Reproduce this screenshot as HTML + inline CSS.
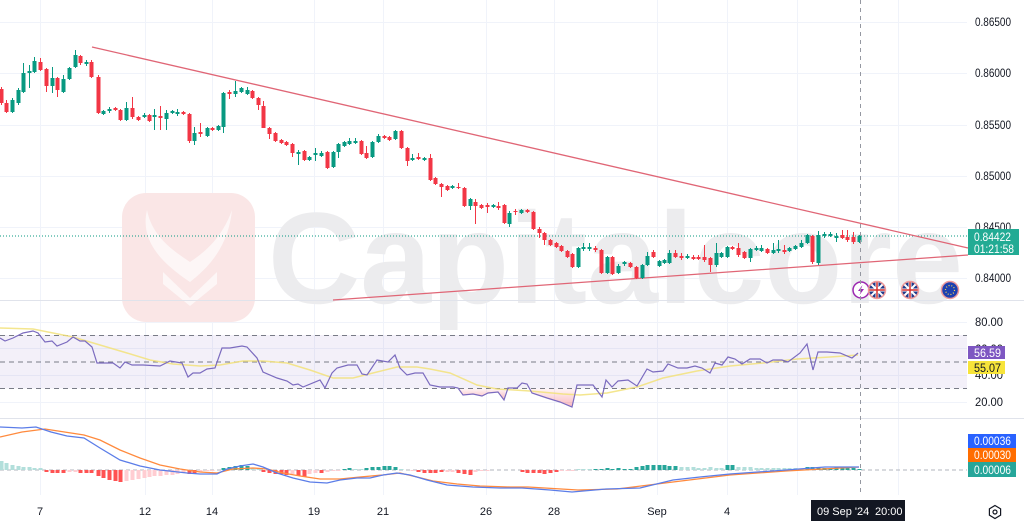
<!DOCTYPE html>
<html><head><meta charset="utf-8"><style>
html,body{margin:0;padding:0;background:#fff;width:1024px;height:524px;overflow:hidden}
svg{display:block;font-family:"Liberation Sans",sans-serif}
</style></head><body>
<svg width="1024" height="524" viewBox="0 0 1024 524" xmlns="http://www.w3.org/2000/svg">
<rect width="1024" height="524" fill="#fff"/>
<!-- grid -->
<g stroke="#f0f3fa" stroke-width="1">
<path d="M0 22.5H967M0 73.5H967M0 125.5H967M0 176.5H967M0 227.5H967M0 278.5H967"/>
<path d="M0 322.5H967M0 348.5H967M0 375.5H967M0 402.5H967"/>
<path d="M40.5 0V495M145.5 0V495M212.5 0V495M314.5 0V495M383.5 0V495M486.5 0V495M554.5 0V495M657.5 0V495M727.5 0V495M797.5 0V495M898.5 0V495"/>
</g>
<!-- watermark -->
<rect x="122" y="193" width="133" height="129" rx="24" fill="#fae6e6"/>
<path d="M147 210 C140 240 160 262 190 282 C205 270 228 250 232 210 C222 238 205 252 190 262 C172 250 152 236 147 210Z" fill="#fdf6f6"/>
<path d="M163 272 L190 298 L217 272 L217 284 L190 306 L163 284Z" fill="#fdf6f6"/>
<text x="268" y="303" font-size="130" font-weight="bold" fill="#ececee" textLength="695" lengthAdjust="spacingAndGlyphs">Capitalcore</text>
<!-- panel separators -->
<path d="M0 300.5H1024M0 418.5H1024" stroke="#e0e3eb" stroke-width="1"/>
<!-- current price dotted -->
<path d="M0 236H967" stroke="#089981" stroke-width="1" stroke-dasharray="1 2"/>
<!-- trendlines -->
<path d="M92 47L968 248M333 300L968 255" stroke="#e06676" stroke-width="1.3" fill="none"/>
<!-- candles -->
<path fill="none" stroke="#089981" stroke-width="1" d="M12.5 98V113M18.5 88V105M23.5 63V93M29.5 65V88M34.5 57V73M52.5 67V93M63.5 75V93M69.5 67V80M75.5 50V68M86.5 60V66M103.5 110V115M109.5 107V113M126.5 102V121M144.5 113V118M154.5 109V130M166.5 110V130M172.5 110V114M177.5 109V116M194.5 127V145M207.5 127V137M218.5 125V131M223.5 92V133M235.5 81V97M241.5 87V93M247.5 87V95M298.5 150V165M309.5 156V161M315.5 148V161M321.5 151V157M333.5 151V168M338.5 143V158M344.5 141V147M349.5 138V145M355.5 138V144M372.5 141V158M378.5 134V143M395.5 130V140M412.5 154V161M424.5 157V161M452.5 185V189M470.5 198V210M493.5 204V208M509.5 211V227M521.5 209V214M578.5 247V268M583.5 243V251M589.5 243V251M607.5 256V274M618.5 264V274M624.5 261V266M642.5 264V279M647.5 252V266M659.5 260V267M664.5 259V264M669.5 250V264M687.5 254V259M716.5 243V267M721.5 252V258M727.5 246V258M750.5 248V262M756.5 246V251M761.5 245V252M773.5 243V254M778.5 240V253M789.5 247V252M795.5 245V250M801.5 240V248M807.5 234V244M818.5 231V265M824.5 232V238M830.5 232V237M836.5 233V242M859.5 235V243"/>
<path fill="#089981" d="M10.5 100h4V112h-4zM16.5 90h4V103h-4zM21.5 73h4V92h-4zM27.5 71h4V73h-4zM32.5 61h4V72h-4zM50.5 78h4V86h-4zM61.5 79h4V92h-4zM67.5 68h4V79h-4zM73.5 55h4V67h-4zM84.5 62h4V64h-4zM101.5 111h4V114h-4zM107.5 109h4V111h-4zM124.5 108h4V120h-4zM142.5 115h4V117h-4zM152.5 115h4V117h-4zM164.5 113h4V119h-4zM170.5 111h4V113h-4zM175.5 112h4V114h-4zM192.5 133h4V141h-4zM205.5 128h4V136h-4zM216.5 126h4V130h-4zM221.5 93h4V127h-4zM233.5 91h4V94h-4zM239.5 88h4V92h-4zM245.5 90h4V94h-4zM296.5 152h4V154h-4zM307.5 157h4V160h-4zM313.5 153h4V155h-4zM319.5 153h4V156h-4zM331.5 152h4V167h-4zM336.5 144h4V152h-4zM342.5 142h4V146h-4zM347.5 141h4V144h-4zM353.5 141h4V143h-4zM370.5 142h4V157h-4zM376.5 136h4V142h-4zM393.5 131h4V139h-4zM410.5 158h4V160h-4zM422.5 158h4V160h-4zM450.5 186h4V188h-4zM468.5 199h4V206h-4zM491.5 205h4V207h-4zM507.5 213h4V224h-4zM519.5 210h4V213h-4zM576.5 248h4V267h-4zM581.5 247h4V249h-4zM587.5 247h4V249h-4zM605.5 257h4V273h-4zM616.5 266h4V273h-4zM622.5 262h4V264h-4zM640.5 265h4V278h-4zM645.5 256h4V265h-4zM657.5 261h4V266h-4zM662.5 260h4V263h-4zM667.5 253h4V263h-4zM685.5 256h4V258h-4zM714.5 253h4V265h-4zM719.5 253h4V257h-4zM725.5 247h4V257h-4zM748.5 249h4V258h-4zM754.5 248h4V250h-4zM759.5 248h4V251h-4zM771.5 250h4V253h-4zM776.5 249h4V251h-4zM787.5 248h4V251h-4zM793.5 246h4V249h-4zM799.5 243h4V247h-4zM805.5 235h4V243h-4zM816.5 235h4V263h-4zM822.5 234h4V236h-4zM828.5 234h4V236h-4zM834.5 236h4V238h-4zM857.5 236h4V242h-4z"/>
<path fill="none" stroke="#f23645" stroke-width="1" d="M1.5 87V105M6.5 100V113M40.5 58V71M46.5 68V92M57.5 77V97M80.5 55V65M91.5 60V78M98.5 75V114M115.5 107V111M120.5 109V121M132.5 97V119M138.5 116V121M149.5 114V122M160.5 106V130M183.5 111V115M189.5 113V143M200.5 123V137M212.5 127V131M229.5 90V99M252.5 90V99M258.5 97V110M263.5 101V128M269.5 127V139M275.5 132V142M281.5 139V144M286.5 141V146M292.5 143V157M304.5 150V161M327.5 151V169M361.5 140V155M366.5 146V159M384.5 135V139M389.5 136V141M401.5 130V149M407.5 147V166M418.5 153V160M430.5 154V181M435.5 177V185M441.5 183V197M447.5 185V191M458.5 183V189M464.5 187V207M475.5 199V224M481.5 204V209M487.5 203V213M498.5 202V210M504.5 204V224M515.5 209V215M527.5 209V213M533.5 211V230M539.5 227V238M544.5 232V245M550.5 239V246M556.5 242V248M561.5 245V252M567.5 250V258M572.5 253V268M595.5 246V252M601.5 249V274M612.5 256V275M630.5 262V268M636.5 266V279M653.5 250V258M675.5 250V258M681.5 253V260M693.5 255V260M698.5 255V260M704.5 245V262M710.5 257V272M732.5 246V250M738.5 243V257M744.5 251V259M767.5 248V254M784.5 245V254M812.5 235V264M842.5 230V239M847.5 230V242M853.5 232V244"/>
<path fill="#f23645" d="M-0.5 89h4V103h-4zM4.5 103h4V112h-4zM38.5 62h4V70h-4zM44.5 69h4V86h-4zM55.5 78h4V90h-4zM78.5 56h4V63h-4zM89.5 62h4V77h-4zM96.5 77h4V113h-4zM113.5 108h4V110h-4zM118.5 110h4V120h-4zM130.5 108h4V117h-4zM136.5 117h4V120h-4zM147.5 115h4V121h-4zM158.5 116h4V118h-4zM181.5 112h4V114h-4zM187.5 114h4V141h-4zM198.5 132h4V134h-4zM210.5 128h4V130h-4zM227.5 92h4V94h-4zM250.5 91h4V98h-4zM256.5 98h4V105h-4zM261.5 106h4V128h-4zM267.5 128h4V134h-4zM273.5 133h4V141h-4zM279.5 140h4V143h-4zM284.5 142h4V145h-4zM290.5 144h4V153h-4zM302.5 151h4V160h-4zM325.5 152h4V168h-4zM359.5 141h4V154h-4zM364.5 153h4V158h-4zM382.5 136h4V138h-4zM387.5 137h4V140h-4zM399.5 131h4V148h-4zM405.5 148h4V161h-4zM416.5 157h4V159h-4zM428.5 158h4V180h-4zM433.5 178h4V184h-4zM439.5 184h4V187h-4zM445.5 186h4V190h-4zM456.5 187h4V188h-4zM462.5 188h4V206h-4zM473.5 202h4V206h-4zM479.5 205h4V208h-4zM485.5 205h4V207h-4zM496.5 206h4V208h-4zM502.5 205h4V223h-4zM513.5 211h4V212h-4zM525.5 210h4V212h-4zM531.5 212h4V229h-4zM537.5 229h4V233h-4zM542.5 233h4V240h-4zM548.5 240h4V245h-4zM554.5 243h4V247h-4zM559.5 246h4V251h-4zM565.5 251h4V257h-4zM570.5 254h4V267h-4zM593.5 248h4V250h-4zM599.5 250h4V273h-4zM610.5 257h4V274h-4zM628.5 263h4V267h-4zM634.5 267h4V278h-4zM651.5 252h4V257h-4zM673.5 253h4V257h-4zM679.5 256h4V258h-4zM691.5 257h4V259h-4zM696.5 257h4V259h-4zM702.5 257h4V260h-4zM708.5 258h4V265h-4zM730.5 247h4V249h-4zM736.5 248h4V255h-4zM742.5 252h4V258h-4zM765.5 249h4V253h-4zM782.5 250h4V252h-4zM810.5 236h4V262h-4zM840.5 235h4V238h-4zM845.5 237h4V240h-4zM851.5 237h4V242h-4z"/>
<!-- event icons -->
<g transform="translate(861,290)"><circle r="8" fill="#fff" stroke="#9c27b0" stroke-width="1.5"/><path d="M1.5-5L-3 1H0L-1.5 5L3-1H0Z" fill="#9c27b0"/></g>
<g transform="translate(877,290)"><circle r="8.5" fill="#1e3a8a"/><path d="M-6-6L6 6M6-6L-6 6" stroke="#fff" stroke-width="2"/><path d="M0-8.5V8.5M-8.5 0H8.5" stroke="#fff" stroke-width="3"/><path d="M0-8.5V8.5M-8.5 0H8.5" stroke="#d32f2f" stroke-width="1.5"/><circle r="8.5" fill="none" stroke="#ef9a9a" stroke-width="1.5"/></g>
<g transform="translate(910,290)"><circle r="8.5" fill="#1e3a8a"/><path d="M-6-6L6 6M6-6L-6 6" stroke="#fff" stroke-width="2"/><path d="M0-8.5V8.5M-8.5 0H8.5" stroke="#fff" stroke-width="3"/><path d="M0-8.5V8.5M-8.5 0H8.5" stroke="#d32f2f" stroke-width="1.5"/><circle r="8.5" fill="none" stroke="#ef9a9a" stroke-width="1.5"/></g>
<g transform="translate(950,290)"><circle r="8.5" fill="#1e40af" stroke="#ef9a9a" stroke-width="1.5"/><circle r="4.5" fill="none" stroke="#ffd54f" stroke-width="1.2" stroke-dasharray="1 1.8"/></g>
<!-- RSI panel -->
<rect x="0" y="335" width="967" height="53.5" fill="#7e57c2" fill-opacity="0.09"/>
<path d="M0 335.5H967M0 362H967M0 388.5H967" stroke="#787b86" stroke-width="1" stroke-dasharray="5 4"/>
<defs><linearGradient id="pk" x1="0" y1="0" x2="0" y2="1"><stop offset="0" stop-color="#f23645" stop-opacity="0.05"/><stop offset="1" stop-color="#f23645" stop-opacity="0.35"/></linearGradient></defs>
<path d="M459 388.7L463 395L473 394L482 396L488 393L498 392L504 400L506 388.7Z" fill="url(#pk)"/>
<path d="M529 388.7L532 393L547 398L560 402L572 407L577 388.7Z" fill="url(#pk)"/>
<polyline fill="none" stroke="#f2e27a" stroke-width="1.5" stroke-opacity="0.85" points="0,328 33,329 53,333 73,337 100,345 127,353 150,360 173,364 200,366 220,365 243,361 263,361 287,363 310,370 333,378 353,378 373,373 397,367 417,367 430,369 450,373 477,385 497,389 530,391 563,394 580,395 607,393 637,387 663,378 697,371 730,366 763,363 797,359 830,357 858,355"/>
<polyline fill="none" stroke="#7b6bbf" stroke-width="1.2" points="0,338 5,341 13,338 23,333 33,331 38,333 45,342 52,341 57,346 67,342 73,337 80,341 85,341 92,347 97,363 113,363 120,368 125,362 132,365 143,365 160,366 170,361 182,363 188,377 193,373 200,373 207,369 215,368 222,348 230,348 242,346 247,347 257,358 263,372 277,378 287,381 293,385 298,384 303,387 320,380 325,388 332,373 337,368 348,365 357,365 362,374 367,375 377,360 388,362 395,355 400,368 407,375 415,373 423,373 430,385 440,387 453,387 458,388 463,395 473,394 482,396 488,393 498,392 504,400 508,388 517,388 522,383 527,384 532,393 547,398 560,402 572,407 577,385 593,385 602,397 606,380 612,387 618,381 628,380 637,386 647,369 653,372 663,371 668,364 678,368 687,368 695,366 702,368 710,373 715,363 722,365 728,357 735,359 742,364 750,359 760,359 767,363 773,360 782,360 788,362 800,353 807,344 813,370 818,352 827,352 840,353 852,358 858,353"/>
<!-- MACD panel -->
<path d="M0 470H967" stroke="#b2b5be" stroke-width="1" stroke-dasharray="4 3"/>
<path fill="#b2dfdb" d="M-0.5 461h4V470h-4zM4.5 463h4V470h-4zM10.5 465h4V470h-4zM16.5 466h4V470h-4zM21.5 467h4V470h-4zM27.5 467h4V470h-4zM32.5 468h4V470h-4zM38.5 468h4V470h-4zM250.5 468h4V470h-4zM256.5 469h4V470h-4zM353.5 469h4V470h-4zM359.5 469h4V470h-4zM399.5 469h4V470h-4zM576.5 469h4V470h-4zM581.5 469h4V470h-4zM587.5 469h4V470h-4zM679.5 467h4V470h-4zM685.5 467h4V470h-4zM691.5 467h4V470h-4zM696.5 468h4V470h-4zM702.5 468h4V470h-4zM708.5 467h4V470h-4zM714.5 468h4V470h-4zM719.5 468h4V470h-4zM736.5 467h4V470h-4zM742.5 467h4V470h-4zM748.5 467h4V470h-4zM754.5 468h4V470h-4zM759.5 468h4V470h-4zM765.5 468h4V470h-4zM771.5 468h4V470h-4zM776.5 468h4V470h-4zM782.5 468h4V470h-4zM787.5 468h4V470h-4zM793.5 468h4V470h-4zM799.5 469h4V470h-4z"/>
<path fill="#26a69a" d="M221.5 468h4V470h-4zM227.5 467h4V470h-4zM233.5 466h4V470h-4zM239.5 465h4V470h-4zM245.5 466h4V470h-4zM342.5 469h4V470h-4zM347.5 468h4V470h-4zM364.5 468h4V470h-4zM370.5 467h4V470h-4zM376.5 467h4V470h-4zM382.5 466h4V470h-4zM387.5 466h4V470h-4zM393.5 467h4V470h-4zM593.5 469h4V470h-4zM599.5 469h4V470h-4zM605.5 468h4V470h-4zM610.5 469h4V470h-4zM616.5 468h4V470h-4zM622.5 469h4V470h-4zM628.5 469h4V470h-4zM634.5 467h4V470h-4zM640.5 466h4V470h-4zM645.5 465h4V470h-4zM651.5 465h4V470h-4zM657.5 465h4V470h-4zM662.5 465h4V470h-4zM667.5 466h4V470h-4zM673.5 466h4V470h-4zM725.5 465h4V470h-4zM730.5 465h4V470h-4zM805.5 467h4V470h-4zM810.5 467h4V470h-4zM816.5 467h4V470h-4zM822.5 468h4V470h-4zM828.5 468h4V470h-4zM834.5 467h4V470h-4zM840.5 468h4V470h-4zM845.5 468h4V470h-4zM851.5 468h4V470h-4zM857.5 469h4V470h-4z"/>
<path fill="#ff5252" d="M44.5 470h4V472h-4zM50.5 470h4V473h-4zM55.5 470h4V473h-4zM61.5 470h4V473h-4zM78.5 470h4V473h-4zM84.5 470h4V473h-4zM89.5 470h4V473h-4zM96.5 470h4V476h-4zM101.5 470h4V478h-4zM107.5 470h4V480h-4zM113.5 470h4V481h-4zM118.5 470h4V482h-4zM187.5 470h4V474h-4zM192.5 470h4V474h-4zM261.5 470h4V472h-4zM267.5 470h4V473h-4zM273.5 470h4V474h-4zM279.5 470h4V474h-4zM284.5 470h4V475h-4zM296.5 470h4V476h-4zM302.5 470h4V477h-4zM319.5 470h4V473h-4zM416.5 470h4V472h-4zM422.5 470h4V473h-4zM428.5 470h4V473h-4zM433.5 470h4V473h-4zM439.5 470h4V472h-4zM456.5 470h4V473h-4zM462.5 470h4V474h-4zM468.5 470h4V475h-4zM520.5 470h4V472h-4zM525.5 470h4V473h-4zM531.5 470h4V473h-4zM537.5 470h4V473h-4zM542.5 470h4V474h-4zM548.5 470h4V473h-4zM554.5 470h4V472h-4z"/>
<path fill="#ffcdd2" d="M67.5 470h4V472h-4zM73.5 470h4V472h-4zM124.5 470h4V481h-4zM130.5 470h4V480h-4zM136.5 470h4V479h-4zM142.5 470h4V478h-4zM147.5 470h4V477h-4zM152.5 470h4V476h-4zM158.5 470h4V476h-4zM164.5 470h4V475h-4zM170.5 470h4V475h-4zM175.5 470h4V474h-4zM181.5 470h4V473h-4zM198.5 470h4V472h-4zM205.5 470h4V471h-4zM210.5 470h4V471h-4zM290.5 470h4V474h-4zM307.5 470h4V474h-4zM313.5 470h4V473h-4zM325.5 470h4V472h-4zM331.5 470h4V471h-4zM336.5 470h4V471h-4zM410.5 470h4V471h-4zM445.5 470h4V472h-4zM450.5 470h4V472h-4zM473.5 470h4V472h-4zM479.5 470h4V471h-4zM485.5 470h4V471h-4zM559.5 470h4V471h-4zM565.5 470h4V471h-4zM570.5 470h4V471h-4z"/>
<polyline fill="none" stroke="#ff8a3d" stroke-width="1.3" points="0,437 22,432 45,429 84,435 100,440 120,450 140,458 160,465 180,469 200,472 217,473 233,469 253,468 267,469 283,473 300,476 320,479 340,479 360,477 383,475 400,473 417,477 433,481 457,484 480,486 510,487 528,487 578,490 617,489 673,482 730,475 786,471 859,467"/>
<polyline fill="none" stroke="#5b7de8" stroke-width="1.3" points="0,427 22,428 36,427 51,432 67,436 84,438 100,448 120,460 140,466 160,470 187,473 200,474 217,474 227,469 240,466 253,464 263,467 277,473 293,478 310,482 327,483 340,480 357,478 370,478 383,475 397,473 410,475 427,480 447,485 473,487 500,488 522,488 550,490 572,492 606,489 640,488 673,480 700,477 730,474 786,470 825,467 859,467"/>
<!-- crosshair vertical -->
<path d="M860.5 0V495" stroke="#9598a1" stroke-width="1" stroke-dasharray="4 4"/>
<!-- price axis -->
<g font-size="11.5" fill="#131722">
<text x="975" y="26" textLength="36" lengthAdjust="spacingAndGlyphs">0.86500</text>
<text x="975" y="77" textLength="36" lengthAdjust="spacingAndGlyphs">0.86000</text>
<text x="975" y="129" textLength="36" lengthAdjust="spacingAndGlyphs">0.85500</text>
<text x="975" y="180" textLength="36" lengthAdjust="spacingAndGlyphs">0.85000</text>
<text x="975" y="231" textLength="36" lengthAdjust="spacingAndGlyphs">0.84500</text>
<text x="975" y="282" textLength="36" lengthAdjust="spacingAndGlyphs">0.84000</text>
<text x="975" y="326" textLength="28" lengthAdjust="spacingAndGlyphs">80.00</text>
<text x="975" y="353" textLength="28" lengthAdjust="spacingAndGlyphs">60.00</text>
<text x="975" y="379" textLength="28" lengthAdjust="spacingAndGlyphs">40.00</text>
<text x="975" y="406" textLength="28" lengthAdjust="spacingAndGlyphs">20.00</text>
</g>
<rect x="968" y="229" width="51" height="26" fill="#22ab94"/>
<g font-size="11.5" fill="#fff">
<text x="974" y="241" textLength="37" lengthAdjust="spacingAndGlyphs">0.84422</text>
<text x="974" y="253" textLength="40" lengthAdjust="spacingAndGlyphs">01:21:58</text>
</g>
<rect x="968" y="346" width="37" height="13" fill="#7e57c2"/>
<text x="974" y="357" font-size="11.5" fill="#fff" textLength="27" lengthAdjust="spacingAndGlyphs">56.59</text>
<rect x="968" y="361" width="37" height="13" fill="#f7e43a"/>
<text x="974" y="372" font-size="11.5" fill="#131722" textLength="27" lengthAdjust="spacingAndGlyphs">55.07</text>
<rect x="968" y="434" width="48" height="14" fill="#2962ff"/>
<text x="974" y="445" font-size="11.5" fill="#fff" textLength="37" lengthAdjust="spacingAndGlyphs">0.00036</text>
<rect x="968" y="448" width="48" height="14" fill="#ff6d00"/>
<text x="974" y="459" font-size="11.5" fill="#fff" textLength="37" lengthAdjust="spacingAndGlyphs">0.00030</text>
<rect x="968" y="462" width="48" height="15" fill="#26a69a"/>
<text x="974" y="474" font-size="11.5" fill="#fff" textLength="37" lengthAdjust="spacingAndGlyphs">0.00006</text>
<!-- time axis -->
<g font-size="11" fill="#131722" text-anchor="middle">
<text x="40" y="515">7</text>
<text x="145" y="515">12</text>
<text x="212" y="515">14</text>
<text x="314" y="515">19</text>
<text x="383" y="515">21</text>
<text x="486" y="515">26</text>
<text x="554" y="515">28</text>
<text x="657" y="515">Sep</text>
<text x="727" y="515">4</text>
</g>
<rect x="811" y="500" width="94" height="21" fill="#131722"/>
<text x="817" y="515" font-size="11" fill="#fff">09 Sep '24</text>
<text x="875" y="515" font-size="11" fill="#fff">20:00</text>
<g transform="translate(995,512)"><path d="M0-6.5L5.6-3.2V3.2L0 6.5L-5.6 3.2V-3.2Z" fill="none" stroke="#131722" stroke-width="1.2"/><circle r="2" fill="none" stroke="#131722" stroke-width="1.2"/></g>
</svg>
</body></html>
